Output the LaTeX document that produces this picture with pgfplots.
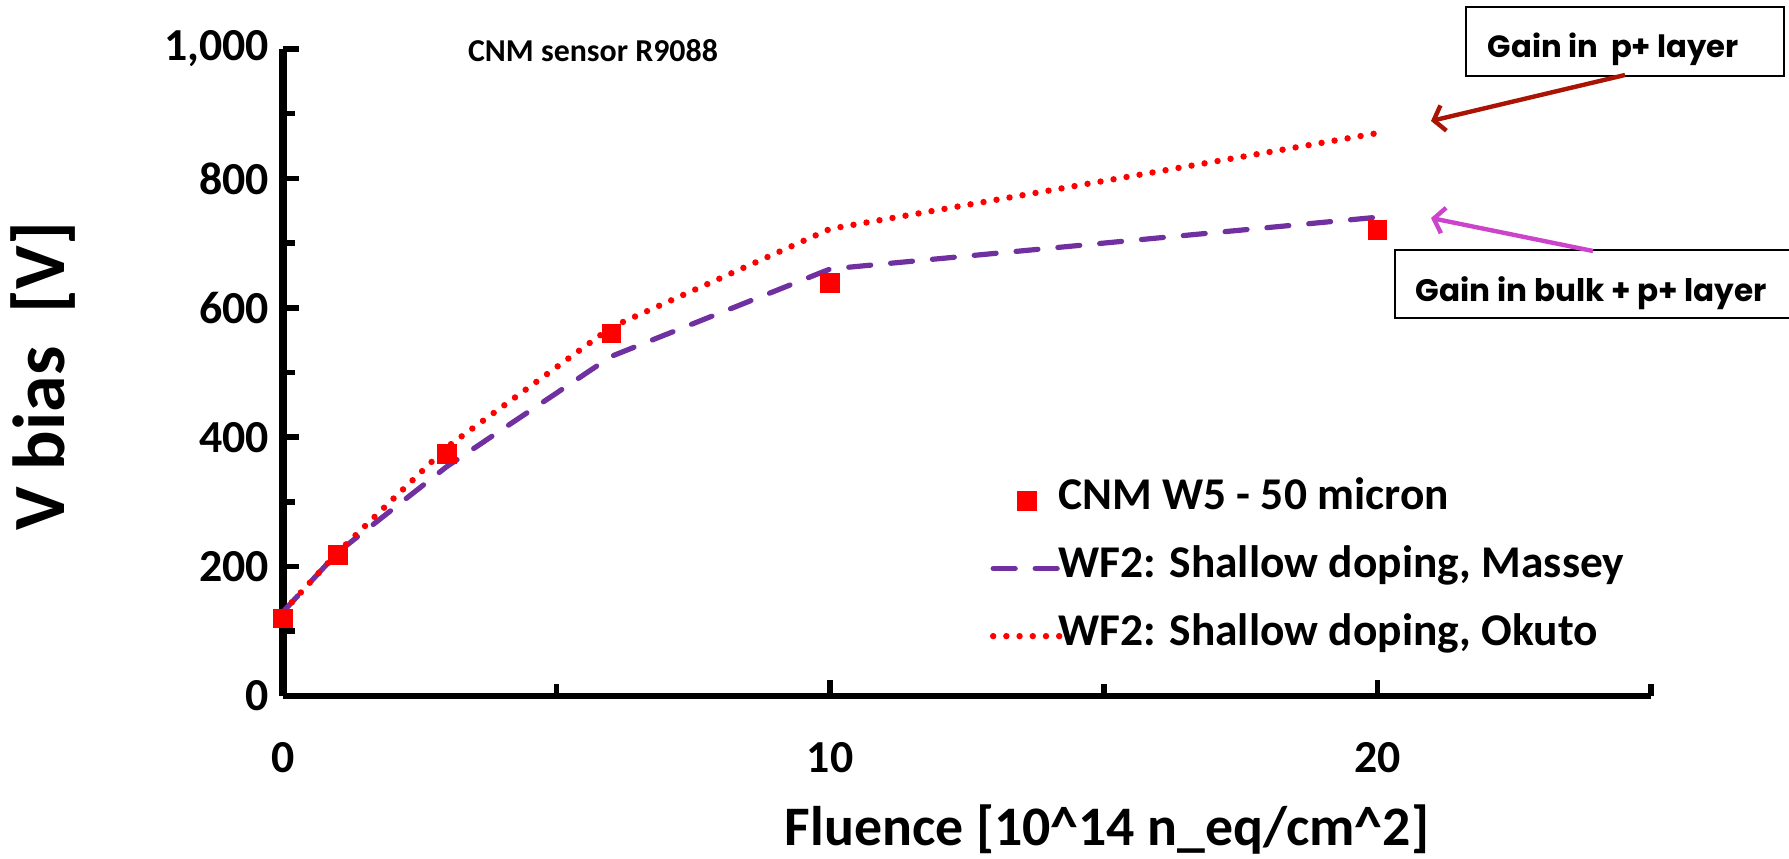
\documentclass[border=0pt]{standalone}
\usepackage{pgfplots}
\pgfplotsset{compat=1.18}
\usetikzlibrary{arrows.meta}
\usepackage{fontspec}
\setmainfont{Carlito}
\newfontfamily\pop{Poppins}
\definecolor{massey}{RGB}{112,48,160}
\definecolor{arrowred}{RGB}{170,20,5}
\definecolor{arrowmag}{RGB}{204,68,204}
\begin{document}
\begin{tikzpicture}
\begin{axis}[
  at={(0,0)}, anchor=origin,
  width=342bp, height=161.75bp, scale only axis,
  xmin=0, xmax=25, ymin=0, ymax=1000,
  axis lines=left,
  x axis line style={line width=1.5bp, -},
  y axis line style={line width=1.8bp, -},
  xtick={0,10,20}, minor xtick={5,15,25},
  ytick={0,200,400,600,800,1000}, minor ytick={100,300,500,700,900},
  tick align=inside,
  major tick length=4bp, minor tick length=3bp,
  every tick/.style={line width=1.4bp, black},
  every minor tick/.style={line width=1.4bp, black},
  clip=false,
  /pgf/number format/assume math mode=true,
  /pgf/number format/1000 sep={,},
  ticklabel style={font=\fontsize{11.5}{12}\selectfont\bfseries},
  xticklabel style={yshift=-8.2bp},
  legend style={at={(rel axis cs:0.5168,0.197)}, anchor=west, draw=none, fill=none,
    inner sep=0pt, outer sep=0pt, row sep=7.4bp, column sep=-1.5bp,
    font=\fontsize{11.4}{13}\selectfont\bfseries,
    nodes={inner sep=0pt, text height=7bp, text depth=2.5bp}},
  legend cell align=left,
]
\addplot[only marks, mark=square*, mark size=2.25bp, color=red] coordinates {
  (0,120) (1,218) (3,374) (6,560) (10,638) (20,720)};
\addlegendentry{CNM W5 - 50 micron}
\addplot[massey, line width=1.3bp, line cap=round, dash pattern=on 5.5bp off 5bp] coordinates {
  (0,130) (1,222) (3,355) (6,525) (10,660) (20,740)};
\addlegendentry{WF2: Shallow doping, Massey}
\addplot[red, line width=1.6bp, line cap=round, dash pattern=on 0bp off 3.3bp] coordinates {
  (0,130) (1,222) (3,385) (6,570) (10,722) (20,870)};
\addlegendentry{WF2: Shallow doping, Okuto}
\end{axis}
\node[font=\fontsize{8}{10}\selectfont\bfseries] at (77.5bp,161.25bp) {CNM sensor R9088};
\node[font=\fontsize{14}{16}\selectfont\bfseries] at (206bp,-33.3bp) {Fluence [10\textasciicircum 14 n\_eq/cm\textasciicircum 2]};
\node[rotate=90, font=\fontsize{18.5}{21}\selectfont\bfseries] at (-60bp,80bp) {V bias~~[V]};
% annotation boxes
\draw[line width=0.5bp] (295.75bp,155bp) rectangle (375.25bp,172.25bp);
\node[anchor=base west, inner sep=0pt] at (301bp,159.5bp) {\pop\bfseries\fontsize{7.7}{9}\selectfont Gain in~~p+ layer};
\draw[line width=0.6bp] (278bp,94.5bp) rectangle (380bp,111.5bp);
\node[anchor=base west, inner sep=0pt] at (283bp,98.5bp) {\pop\bfseries\fontsize{7.8}{9}\selectfont Gain in bulk + p+ layer};
\draw[arrowred, line width=1.1bp, -{Straight Barb[length=2.5bp, width=6.5bp, line width=1.1bp]}] (335.5bp,155.25bp) -- (287bp,143.75bp);
\draw[arrowmag, line width=1.1bp, -{Straight Barb[length=2.5bp, width=6.5bp, line width=1.1bp]}] (327.5bp,111.25bp) -- (287bp,119.5bp);
\pgfresetboundingbox
\path[use as bounding box] (-70.75bp,-40.75bp) rectangle (376.5bp,174bp);
\end{tikzpicture}
\end{document}
